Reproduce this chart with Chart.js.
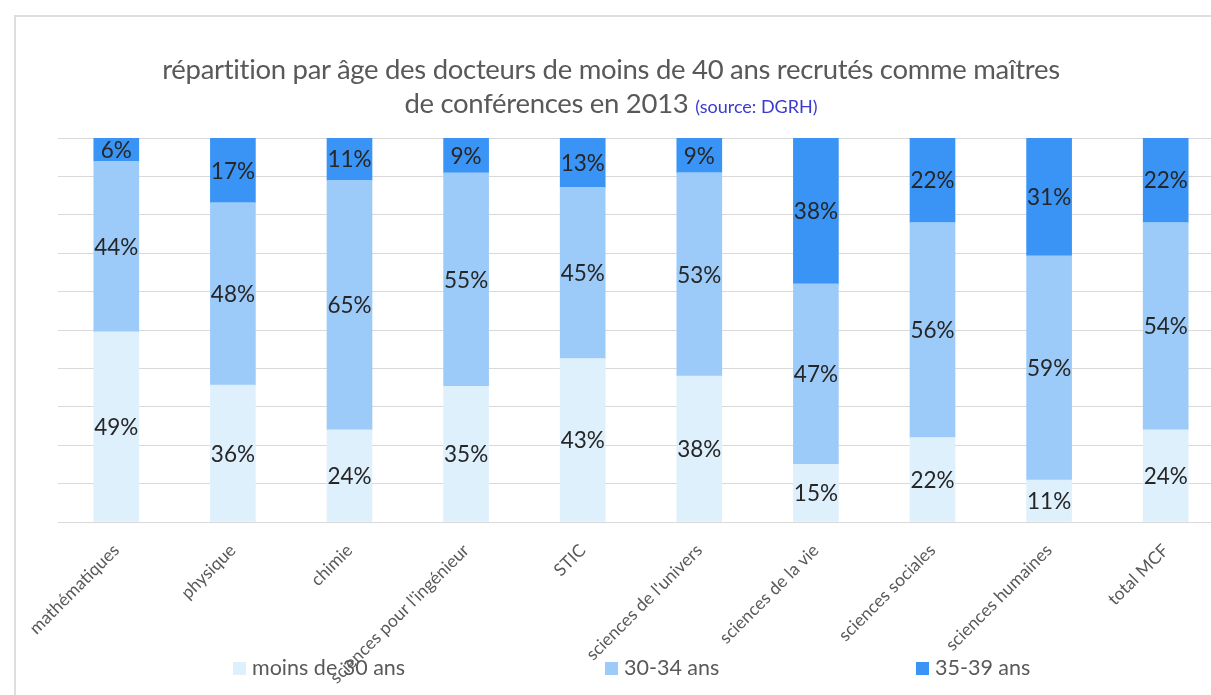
<!DOCTYPE html>
<html lang="fr">
<head>
<meta charset="utf-8">
<title>Répartition par âge des docteurs recrutés MCF 2013</title>
<script src="https://cdn.jsdelivr.net/npm/chart.js@4.4.1/dist/chart.umd.min.js"></script>
<style>
  html, body { margin: 0; padding: 0; background: #ffffff; overflow: hidden; }
  body { width: 1211px; height: 695px; position: relative; font-family: Lato, "Open Sans", sans-serif; }
  #frame { position: absolute; left: 14px; top: 15px; width: 1300px; height: 800px;
           border-left: 2px solid #dedede; border-top: 2px solid #dedede; box-sizing: border-box; }
  #wrap { position: absolute; left: 0; top: 0; width: 1240px; height: 695px; }
  #title { position: absolute; left: 0; width: 1222px; top: 52px; text-align: center;
           color: #595959; font-size: 27.5px; line-height: 34px; letter-spacing: -0.3px; }
  #title .src { color: #3a3acf; font-size: 18px; letter-spacing: 0; }
  .lg { position: absolute; top: 653px; color: #595959; font-size: 21.5px; line-height: 28px; white-space: nowrap; }
  .lg i { display: inline-block; width: 13px; height: 13px; margin-right: 6px; vertical-align: 0px; }
</style>
</head>
<body>
<div id="frame"></div>
<div id="wrap"><canvas id="c" width="1240" height="695"></canvas></div>
<div id="title">répartition par âge des docteurs de moins de 40 ans recrutés comme maîtres<br>de conférences en 2013 <span class="src">(source: DGRH)</span></div>
<div id="legend"></div>
<script>
// Disciplines (x axis)
const categories = [
  "mathématiques", "physique", "chimie", "sciences pour l'ingénieur", "STIC",
  "sciences de l'univers", "sciences de la vie", "sciences sociales",
  "sciences humaines", "total MCF"
];

// Share of recruits per age group, in % (rounded, as published)
const moins30 = [49, 36, 24, 35, 43, 38, 15, 22, 11, 24];
const ans30_34 = [44, 48, 65, 55, 45, 53, 47, 56, 59, 54];
const ans35_39 = [6, 17, 11, 9, 13, 9, 38, 22, 31, 22];

const seriesNames = ["moins de 30 ans", "30-34 ans", "35-39 ans"];
const seriesColors = ["#dff0fd", "#9dcbf9", "#3a94f6"];
const seriesValues = [moins30, ans30_34, ans35_39];

// 100% stacked: each column is scaled to its own total
const totals = categories.map((_, i) => moins30[i] + ans30_34[i] + ans35_39[i]);
const asShare = arr => arr.map((v, i) => v / totals[i] * 100);

// Legend positions along the bottom
const legendLeft = [233, 605, 916];
const legend = document.getElementById('legend');
seriesNames.forEach((name, i) => {
  const d = document.createElement('div');
  d.className = 'lg';
  d.style.left = legendLeft[i] + 'px';
  d.innerHTML = '<i style="background:' + seriesColors[i] + '"></i>' + name;
  legend.appendChild(d);
});

// Percent labels at the middle of each segment
const segmentLabels = {
  id: 'segmentLabels',
  afterDatasetsDraw(chart) {
    const ctx = chart.ctx;
    ctx.save();
    ctx.font = '22.5px Lato, "Open Sans", sans-serif';
    ctx.fillStyle = '#262626';
    ctx.textAlign = 'center';
    ctx.textBaseline = 'middle';
    chart.data.datasets.forEach((ds, di) => {
      const meta = chart.getDatasetMeta(di);
      meta.data.forEach((bar, i) => {
        const cy = (bar.y + bar.base) / 2;
        ctx.fillText(ds.rawValues[i] + '%', bar.x, cy + 1);
      });
    });
    ctx.restore();
  }
};

new Chart(document.getElementById('c'), {
  type: 'bar',
  data: {
    labels: categories,
    datasets: seriesNames.map((name, k) => ({
      label: name,
      data: asShare(seriesValues[k]),
      rawValues: seriesValues[k],
      backgroundColor: seriesColors[k]
    }))
  },
  options: {
    responsive: false,
    animation: false,
    layout: { padding: { top: 138, right: 16, left: 0, bottom: 0 } },
    datasets: { bar: { barThickness: 45, borderWidth: 0 } },
    plugins: {
      legend: { display: false },
      title: { display: false },
      tooltip: { enabled: false }
    },
    scales: {
      x: {
        stacked: true,
        grid: { display: false },
        border: { color: '#d9d9d9' },
        ticks: {
          autoSkip: false, maxRotation: 45, minRotation: 45, padding: 10,
          color: '#595959', font: { family: 'Lato, "Open Sans", sans-serif', size: 17.5 }
        },
        afterFit(scale) { scale.height = 695 - 522; }
      },
      y: {
        stacked: true,
        min: 0, max: 100,
        ticks: { display: false, stepSize: 10 },
        grid: { color: '#d9d9d9', drawTicks: false },
        border: { display: false },
        afterFit(scale) { scale.width = 58; }
      }
    }
  },
  plugins: [segmentLabels]
});
</script>
</body>
</html>
